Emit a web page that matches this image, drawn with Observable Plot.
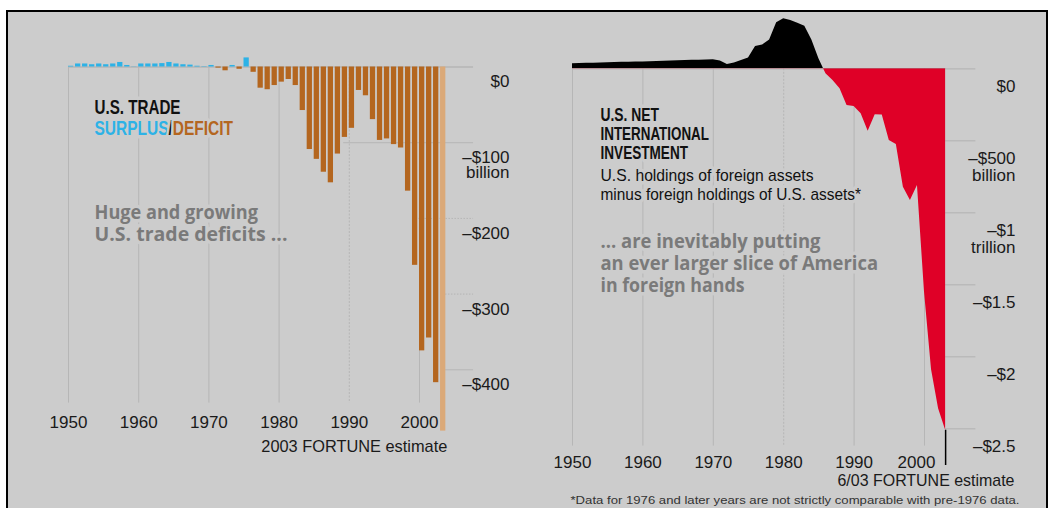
<!DOCTYPE html>
<html><head><meta charset="utf-8">
<script src="https://cdn.jsdelivr.net/npm/d3@7"></script>
<script src="https://cdn.jsdelivr.net/npm/@observablehq/plot@0.6"></script>
<style>
html,body{margin:0;padding:0;background:#fff;}
#stage{position:relative;width:1052px;height:508px;overflow:hidden;background:#fff;}
#panel{position:absolute;left:6px;top:9.5px;width:1038px;height:530px;background:#cccccc;border:2px solid #000;}
.layer{position:absolute;left:0;top:0;width:1052px;height:508px;}
.layer svg{max-width:none;display:block;}
</style></head>
<body>
<div id="stage"><div id="panel"></div><div class="layer" id="left"></div><div class="layer" id="right"></div></div>
<script>
// ---------------- data ----------------
const tradeYears = [1950,1951,1952,1953,1954,1955,1956,1957,1958,1959,
  1960,1961,1962,1963,1964,1965,1966,1967,1968,1969,
  1970,1971,1972,1973,1974,1975,1976,1977,1978,1979,
  1980,1981,1982,1983,1984,1985,1986,1987,1988,1989,
  1990,1991,1992,1993,1994,1995,1996,1997,1998,1999,
  2000,2001,2002,2003];
// U.S. trade surplus/deficit, $ billions
const tradeBalance = [1,4,4,3,4,3,4,6,2,0.3,
  4,4,4,4.5,6,4,3,2.5,1,0.5,
  2,-1.5,-5,2,-3,12,-7,-28,-30,-24.5,
  -20,-16.5,-24.5,-57.5,-109,-122,-139,-153,-115,-93,
  -81,-31,-38,-69.5,-97,-95,-102.5,-107,-164,-262,
  -375,-358,-417,-481];
const estimateYear = 2003;
const tradeTicks = [0,-100,-200,-300,-400];
const tradeTickLabels = ["$0","\u2013$100\nbillion","\u2013$200","\u2013$300","\u2013$400"];
const decadeTicks = [1950,1960,1970,1980,1990,2000];

const niipYears = tradeYears;
// U.S. net international investment position, $ billions
const niipValues = [35,36,38,39,40,42,44,45,46,47,
  48,49,50,52,54,56,58,59,60,61,
  62,55,30,40,58,75,155,165,200,320,
  347,335,317,295,200,70,-35,-81,-139,-255,
  -262,-312,-433,-319,-320,-498,-526,-822,-915,-810,
  -1550,-2090,-2360,-2510];
const niipTicks = [0,-500,-1000,-1500,-2000,-2500];
const niipTickLabels = ["$0","\u2013$500\nbillion","\u2013$1\ntrillion","\u2013$1.5","\u2013$2","\u2013$2.5"];

// ---------------- styling ----------------
const BG = "#cccccc", GRID = "#b6b6b6";
const BLUE = "#2db2e6", BROWN = "#b4661f", TAN = "#dba978", RED = "#df0027";
const SANS = "'Liberation Sans', Arial, sans-serif";
const NARROW = "'Liberation Sans Narrow', 'Liberation Sans', Arial, sans-serif";
const HEAVY = "'Open Sans', 'DejaVu Sans', sans-serif";

const trade = tradeYears.map((year, i) => ({year, value: tradeBalance[i]}));
const niip = niipYears.map((year, i) => ({year, value: niipValues[i]}));

// annotation text: page-position of left edge / baseline, and rendered width
const leftFrame = {left: 68, top: 66.5};
const rightFrame = {left: 572, top: 68.3};
const leftNotes = [
  {text: "U.S. TRADE", x: 94, y: 113.7, size: 21, font: NARROW, weight: "bold", color: "#111", w: 86},
  {text: "SURPLUS/DEFICIT", x: 94, y: 134, size: 21, font: NARROW, weight: "bold", color: "#111", w: 138.5},
  {text: "Huge and growing", x: 94, y: 218.4, size: 19, font: HEAVY, weight: "bold", color: "#7a7a7a", w: 163.5},
  {text: "U.S. trade deficits ...", x: 94, y: 240.5, size: 19, font: HEAVY, weight: "bold", color: "#7a7a7a", w: 193}
];
// colour runs inside the "SURPLUS/DEFICIT" line
const legendRuns = [["SURPLUS", BLUE], ["/", "#111"], ["DEFICIT", BROWN]];
const rightNotes = [
  {text: "U.S. NET", x: 600, y: 120.3, size: 18.5, font: NARROW, weight: "bold", color: "#111", w: 58.5},
  {text: "INTERNATIONAL", x: 600, y: 139, size: 18.5, font: NARROW, weight: "bold", color: "#111", w: 108.5},
  {text: "INVESTMENT", x: 600, y: 158.5, size: 18.5, font: NARROW, weight: "bold", color: "#111", w: 87.5},
  {text: "U.S. holdings of foreign assets", x: 600, y: 180.4, size: 17, font: NARROW, weight: "normal", color: "#111", w: 213},
  {text: "minus foreign holdings of U.S. assets*", x: 600, y: 199.7, size: 17, font: NARROW, weight: "normal", color: "#111", w: 260.5},
  {text: "... are inevitably putting", x: 600, y: 247.2, size: 19, font: HEAVY, weight: "bold", color: "#7a7a7a", w: 220},
  {text: "an ever larger slice of America", x: 600, y: 269.3, size: 19, font: HEAVY, weight: "bold", color: "#7a7a7a", w: 277.5},
  {text: "in foreign hands", x: 600, y: 291.4, size: 19, font: HEAVY, weight: "bold", color: "#7a7a7a", w: 144}
];
const footNotes = [
  {text: "2003 FORTUNE estimate", w: 186},
  {text: "6/03 FORTUNE estimate", w: 177},
  {text: "*Data for 1976 and later years are not strictly comparable with pre-1976 data.", w: 449}
];

function note(frame, s) {
  return Plot.text([s.text], {
    text: d => d, frameAnchor: "top-left", textAnchor: "start", lineAnchor: "bottom",
    dx: s.x - frame.left, dy: s.y - frame.top,
    fontSize: s.size, fontFamily: s.font, fontWeight: s.weight, fill: s.color,
    stroke: BG, strokeWidth: 7, paintOrder: "stroke", strokeLinejoin: "round"
  });
}

// ---------------- left chart: trade balance ----------------
const leftPlot = Plot.plot({
  width: 1052, height: 508,
  marginLeft: 68, marginRight: 543, marginTop: 66.5, marginBottom: 81,
  x: {domain: [1950, 2000], range: [68, 419], axis: null},
  y: {domain: [0, -400], range: [66.5, 369.3], axis: null},
  style: {background: "transparent", overflow: "visible"},
  marks: [
    Plot.ruleX(decadeTicks.filter(d => d !== 1990), {x: d => d, y1: 0, y2: -444, stroke: GRID}),
    Plot.ruleX(decadeTicks.filter(d => d === 1990), {x: d => d, y1: 0, y2: -444, stroke: GRID, strokeDasharray: "2,1.5"}),
    Plot.ruleY(tradeTicks.filter(d => d === 0), {y: d => d, x1: 1950, x2: 2007.7, stroke: GRID, strokeWidth: 1.3}),
    Plot.ruleY(tradeTicks.filter(d => d === -100), {y: d => d, x1: 1989.2, x2: 2007.7, stroke: GRID}),
    Plot.ruleY(tradeTicks.filter(d => d === -200), {y: d => d, x1: 1999.5, x2: 2007.7, stroke: GRID, strokeDasharray: "1.5,1.5"}),
    Plot.ruleY(tradeTicks.filter(d => d === -300), {y: d => d, x1: 2003.7, x2: 2007.7, stroke: GRID, strokeDasharray: "1.5,1.5"}),
    Plot.ruleY(tradeTicks.filter(d => d === -400), {y: d => d, x1: 2003.7, x2: 2007.7, stroke: GRID}),
    ...leftNotes.map(s => note(leftFrame, s)),
    Plot.rect(trade.filter(d => d.year !== estimateYear && d.value >= 0), {x1: "year", x2: d => d.year + 0.75, y1: 0, y2: "value", fill: BLUE}),
    Plot.rect(trade.filter(d => d.year !== estimateYear && d.value < 0), {x1: "year", x2: d => d.year + 0.75, y1: 0, y2: "value", fill: BROWN}),
    Plot.rect(trade.filter(d => d.year === estimateYear), {x1: "year", x2: d => d.year + 0.75, y1: 0, y2: "value", fill: TAN}),
    Plot.text(tradeTicks, {y: d => d, text: (d, i) => tradeTickLabels[i], frameAnchor: "right", textAnchor: "end",
      lineAnchor: "top", lineHeight: 0.85, dy: 10.2, fontSize: 17, fontFamily: SANS, fill: "#1a1a1a"}),
    Plot.text(decadeTicks, {x: d => d, text: d => String(d), frameAnchor: "bottom", lineAnchor: "bottom",
      fontSize: 17, fontFamily: SANS, fill: "#1a1a1a"}),
    Plot.text([footNotes[0].text], {x: () => estimateYear + 0.75, text: d => d, frameAnchor: "bottom", textAnchor: "end",
      lineAnchor: "bottom", dx: 1.5, dy: 24.7, fontSize: 17, fontFamily: SANS, fill: "#1a1a1a"})
  ]
});
document.getElementById("left").append(leftPlot);

// ---------------- right chart: net international investment ----------------
const last = niip[niip.length - 1];
const rightPlot = Plot.plot({
  width: 1052, height: 508,
  marginLeft: 572, marginRight: 37, marginTop: 68.3, marginBottom: 41,
  x: {domain: [1950, 2000], range: [572, 924], axis: null},
  y: {domain: [0, -2500], range: [68.3, 428.3], axis: null},
  style: {background: "transparent", overflow: "visible"},
  marks: [
    Plot.ruleX(decadeTicks.filter(d => d !== 1980), {x: d => d, y1: 0, y2: -2620, stroke: GRID}),
    Plot.ruleX(decadeTicks.filter(d => d === 1980), {x: d => d, y1: 0, y2: -2620, stroke: GRID, strokeDasharray: "2,1.5"}),
    Plot.ruleY(niipTicks, {y: d => d, x1: d => d === 0 ? 1950 : last.year, x2: 2007.3, stroke: GRID, strokeWidth: 1.2}),
    ...rightNotes.map(s => note(rightFrame, s)),
    Plot.area(niip, {x1: "year", y1: 0, y2: "value", fill: "#000", curve: "linear"}),
    Plot.area(niip, {x1: "year", y1: 0, y2: "value", fill: RED, curve: "linear"}),
    Plot.ruleX([last], {x: "year", y1: "value", y2: -2755, stroke: "#000", strokeWidth: 1.5}),
    Plot.text(niipTicks, {y: d => d, text: (d, i) => niipTickLabels[i], frameAnchor: "right", textAnchor: "end",
      lineAnchor: "top", lineHeight: 1.0, dy: 11, fontSize: 17, fontFamily: SANS, fill: "#1a1a1a"}),
    Plot.text(decadeTicks.filter(d => d !== 2000), {x: d => d, text: d => String(d), frameAnchor: "bottom", lineAnchor: "bottom",
      fontSize: 17, fontFamily: SANS, fill: "#1a1a1a"}),
    Plot.text(decadeTicks.filter(d => d === 2000), {x: d => d, text: d => String(d), frameAnchor: "bottom", lineAnchor: "bottom",
      dx: -8, fontSize: 17, fontFamily: SANS, fill: "#1a1a1a"}),
    Plot.text([footNotes[1].text], {text: d => d, frameAnchor: "bottom-right", textAnchor: "end", lineAnchor: "bottom",
      dx: -1, dy: 18, fontSize: 17, fontFamily: SANS, fill: "#1a1a1a"}),
    Plot.text([footNotes[2].text], {text: d => d, frameAnchor: "bottom-right", textAnchor: "end", lineAnchor: "bottom",
      dx: 4, dy: 36.5, fontSize: 11.5, fontFamily: SANS, fill: "#333"})
  ]
});
document.getElementById("right").append(rightPlot);

// clip the NIIP area: black above zero, red below zero
(function () {
  const svg = d3.select(rightPlot);
  const y0 = rightPlot.scale("y").apply(0);
  const defs = svg.insert("defs", ":first-child");
  defs.append("clipPath").attr("id", "niip-pos").append("rect")
    .attr("x", 0).attr("y", 0).attr("width", 1052).attr("height", y0);
  defs.append("clipPath").attr("id", "niip-neg").append("rect")
    .attr("x", 0).attr("y", y0).attr("width", 1052).attr("height", 508 - y0);
  svg.selectAll('g[aria-label="area"]').attr("clip-path", (d, i) => i === 0 ? "url(#niip-pos)" : "url(#niip-neg)");
})();

// fit annotation texts to the measured widths; colour the legend words
const widthByText = new Map([...leftNotes, ...rightNotes, ...footNotes].map(n => [n.text, n.w]));
const legendText = legendRuns.map(r => r[0]).join("");
d3.selectAll("#stage svg text").each(function () {
  const t = this.textContent;
  if (widthByText.has(t)) {
    this.setAttribute("textLength", widthByText.get(t));
    this.setAttribute("lengthAdjust", "spacingAndGlyphs");
  }
  if (t === legendText) {
    const sel = d3.select(this);
    sel.text(null);
    legendRuns.forEach(([s, c]) => sel.append("tspan").attr("fill", c).text(s));
  }
});
d3.selectAll('#stage svg g[aria-label="text"]').attr("paint-order", "stroke").attr("stroke-linejoin", "round");
</script>
</body></html>
